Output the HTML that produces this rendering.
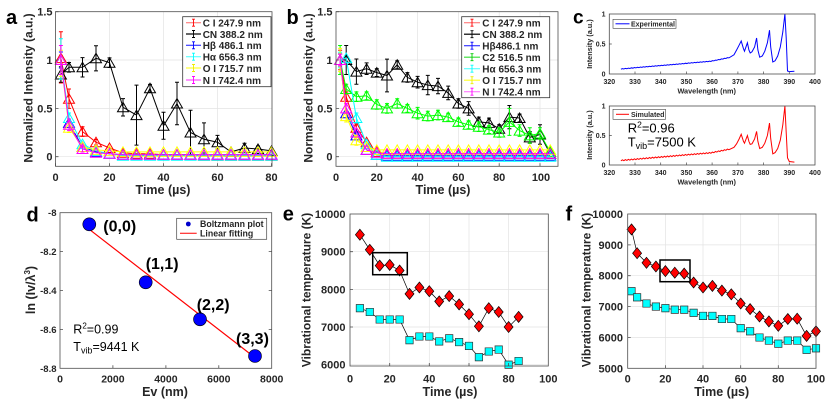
<!DOCTYPE html>
<html>
<head>
<meta charset="utf-8">
<style>
html,body{margin:0;padding:0;background:#fff;}
svg{display:block;}
.tk{font-family:"Liberation Sans",Arial,sans-serif;font-weight:bold;fill:#262626;}
.ti{font-family:"Liberation Sans",Arial,sans-serif;font-weight:bold;fill:#262626;}
.pl{font-family:"Liberation Sans",Arial,sans-serif;font-weight:bold;fill:#000;}
.ax{fill:none;stroke:#4d4d4d;stroke-width:0.8;}
.gr{stroke:#e3e3e3;stroke-width:0.7;fill:none;}
</style>
</head>
<body>
<svg width="831" height="404" viewBox="0 0 831 404" xmlns="http://www.w3.org/2000/svg">
<defs>
<marker id="mr" markerUnits="userSpaceOnUse" markerWidth="12" markerHeight="12" refX="0" refY="0" overflow="visible"><path d="M0,-5 L5.5,4.5 L-5.5,4.5Z" fill="none" stroke="#f00" stroke-width="1"/></marker>
<marker id="mk" markerUnits="userSpaceOnUse" markerWidth="12" markerHeight="12" refX="0" refY="0" overflow="visible"><path d="M0,-5 L5.5,4.5 L-5.5,4.5Z" fill="none" stroke="#000" stroke-width="1"/></marker>
<marker id="mb" markerUnits="userSpaceOnUse" markerWidth="12" markerHeight="12" refX="0" refY="0" overflow="visible"><path d="M0,-5 L5.5,4.5 L-5.5,4.5Z" fill="none" stroke="#00f" stroke-width="1"/></marker>
<marker id="mc" markerUnits="userSpaceOnUse" markerWidth="12" markerHeight="12" refX="0" refY="0" overflow="visible"><path d="M0,-5 L5.5,4.5 L-5.5,4.5Z" fill="none" stroke="#0ff" stroke-width="1"/></marker>
<marker id="my" markerUnits="userSpaceOnUse" markerWidth="12" markerHeight="12" refX="0" refY="0" overflow="visible"><path d="M0,-5 L5.5,4.5 L-5.5,4.5Z" fill="none" stroke="#ff0" stroke-width="1"/></marker>
<marker id="mm" markerUnits="userSpaceOnUse" markerWidth="12" markerHeight="12" refX="0" refY="0" overflow="visible"><path d="M0,-5 L5.5,4.5 L-5.5,4.5Z" fill="none" stroke="#f0f" stroke-width="1"/></marker>
<marker id="mg" markerUnits="userSpaceOnUse" markerWidth="12" markerHeight="12" refX="0" refY="0" overflow="visible"><path d="M0,-5 L5.5,4.5 L-5.5,4.5Z" fill="none" stroke="#0f0" stroke-width="1"/></marker>
<marker id="md" markerUnits="userSpaceOnUse" markerWidth="12" markerHeight="12" refX="0" refY="0" overflow="visible"><path d="M0,-5.5 L4.5,0 L0,5.5 L-4.5,0Z" fill="#f00" stroke="#000" stroke-width="0.7"/></marker>
<marker id="ms" markerUnits="userSpaceOnUse" markerWidth="12" markerHeight="12" refX="0" refY="0" overflow="visible"><path d="M-3.7,-3.7h7.4v7.4h-7.4Z" fill="#0ff" stroke="#333" stroke-width="0.7"/></marker>
</defs>

<!-- ============ PANEL A ============ -->
<text class="pl" x="6" y="24" font-size="20">a</text>
<g class="gr">
<path d="M109.5,11.7V166.3M163.5,11.7V166.3M217.5,11.7V166.3M55.5,156.7H272M55.5,108.4H272M55.5,60H272"/>
</g>
<g fill="none" stroke-width="1">
<!-- red -->
<path stroke="#f00" d="M60.9,31.7V83M58.9,31.7h4M58.9,83h4M69,89V108.4M67,89h4M67,108.4h4M82.5,126.8V136.4M80.5,126.8h4M80.5,136.4h4M96,139.5V145M94,139.5h4M94,145h4"/>
<polyline stroke="#f00" marker-start="url(#mr)" marker-mid="url(#mr)" marker-end="url(#mr)" points="60.9,58.1 69,98.7 82.5,131.6 96,142.2 109.5,148 123,152.8 136.5,153.8 150,153.8 163.5,154.8 177,154.8 190.5,154.8 204,155.7 217.5,155.7 231,155.7 244.5,155.7 258,155.7 271.5,155.7"/>
<!-- black -->
<path stroke="#000" d="M60.9,66.8V82.2M58.9,66.8h4M58.9,82.2h4M69,62.5V72.1M67,62.5h4M67,72.1h4M82.5,57.6V77M80.5,57.6h4M80.5,77h4M96,45.7V70.9M94,45.7h4M94,70.9h4M109.5,57.9V67.5M107.5,57.9h4M107.5,67.5h4M123,98.6V116M121,98.6h4M121,116h4M136.5,85.1V145.1M134.5,85.1h4M134.5,145.1h4M150,84.4V92.2M148,84.4h4M148,92.2h4M163.5,112.3V139.3M161.5,112.3h4M161.5,139.3h4M177,82.2V124.8M175,82.2h4M175,124.8h4M190.5,110.3V154.7M188.5,110.3h4M188.5,154.7h4M204,122.9V155.7M202,122.9h4M202,155.7h4M217.5,135.4V149M215.5,135.4h4M215.5,149h4M244.5,143.2V152.8M242.5,143.2h4M242.5,152.8h4M258,146V152M256,146h4M256,152h4"/>
<polyline stroke="#000" marker-start="url(#mk)" marker-mid="url(#mk)" marker-end="url(#mk)" points="60.9,74.5 69,67.3 82.5,67.3 96,58.3 109.5,62.7 123,107.3 136.5,115.1 150,88.3 163.5,125.8 177,103.5 190.5,132.5 204,139.3 217.5,142.2 231,151.9 244.5,148 258,149 271.5,150.9"/>
<!-- blue -->
<path stroke="#00f" d="M60.9,52V68M58.9,52h4M58.9,68h4"/>
<polyline stroke="#00f" marker-start="url(#mb)" marker-mid="url(#mb)" marker-end="url(#mb)" points="60.9,60 69,122.9 82.5,147 96,151.9 109.5,153.8 123,154.8 136.5,154.8 150,154.8 163.5,154.8 177,154.8 190.5,154.8 204,154.8 217.5,154.8 231,154.8 244.5,154.8 258,154.8 271.5,154.8"/>
<!-- cyan -->
<path stroke="#0ff" d="M60.9,38.7V79.3M58.9,38.7h4M58.9,79.3h4M69,113V123M67,113h4M67,123h4"/>
<polyline stroke="#0ff" marker-start="url(#mc)" marker-mid="url(#mc)" marker-end="url(#mc)" points="60.9,60 69,118 82.5,144.1 96,150.9 109.5,153.8 123,155.7 136.5,155.7 150,155.7 163.5,155.7 177,155.7 190.5,155.7 204,155.7 217.5,155.7 231,155.7 244.5,155.7 258,155.7 271.5,155.7"/>
<!-- yellow -->
<path stroke="#ff0" d="M60.9,50.3V76.4M58.9,50.3h4M58.9,76.4h4M69,122.9V132.5M67,122.9h4M67,132.5h4"/>
<polyline stroke="#ff0" marker-start="url(#my)" marker-mid="url(#my)" marker-end="url(#my)" points="60.9,60 69,127.7 82.5,147 96,149.9 109.5,150.9 123,151.9 136.5,151.9 150,151.9 163.5,151.9 177,151.9 190.5,151.9 204,151.9 217.5,151.9 231,151.9 244.5,151.9 258,151.9 271.5,151.9"/>
<!-- magenta -->
<path stroke="#f0f" d="M60.9,45.5V74.5M58.9,45.5h4M58.9,74.5h4M69,119V130.6M67,119h4M67,130.6h4M82.5,146V152M80.5,146h4M80.5,152h4"/>
<polyline stroke="#f0f" marker-start="url(#mm)" marker-mid="url(#mm)" marker-end="url(#mm)" points="60.9,60 69,124.8 82.5,149 96,152.8 109.5,153.8 123,154.8 136.5,154.8 150,154.8 163.5,154.8 177,154.8 190.5,154.8 204,154.8 217.5,154.8 231,154.8 244.5,154.8 258,154.8 271.5,154.8"/>
</g>
<rect class="ax" x="55.5" y="11.7" width="216.5" height="154.6"/>
<path stroke="#4d4d4d" stroke-width="0.8" d="M55.5,156.7h3M55.5,108.4h3M55.5,60h3M55.5,11.7h3M55.5,166.3v-3M109.5,166.3v-3M163.5,166.3v-3M217.5,166.3v-3M271.5,166.3v-3"/>
<g class="tk" font-size="11" text-anchor="end">
<text x="52.5" y="15.7">1.5</text><text x="52.5" y="64">1</text><text x="52.5" y="112.4">0.5</text><text x="52.5" y="160.7">0</text>
</g>
<g class="tk" font-size="11" text-anchor="middle">
<text x="55.5" y="181">0</text><text x="109.5" y="181">20</text><text x="163.5" y="181">40</text><text x="217.5" y="181">60</text><text x="271.5" y="181">80</text>
</g>
<text class="ti" x="163" y="194" font-size="12.5" text-anchor="middle">Time (µs)</text>
<text class="ti" font-size="12" text-anchor="middle" transform="translate(32.3,88) rotate(-90)">Normalized Intensity (a.u.)</text>
<!-- legend a -->
<rect x="182.7" y="16.7" width="88.3" height="70" fill="#fff" stroke="#333" stroke-width="0.8"/>
<g stroke-width="1.2">
<path stroke="#ff8080" d="M186,22.7h15"/><path stroke="#f00" stroke-width="0.9" d="M193.5,19.2v7M192,19.2h3M192,26.2h3"/>
<path stroke="#000" d="M186,34h15"/><path stroke="#000" stroke-width="0.9" d="M193.5,30.5v7M192,30.5h3M192,37.5h3"/>
<path stroke="#3a3aff" d="M186,45.3h15"/><path stroke="#00f" stroke-width="0.9" d="M193.5,41.8v7M192,41.8h3M192,48.8h3"/>
<path stroke="#60ffff" d="M186,56.7h15"/><path stroke="#0ff" stroke-width="0.9" d="M193.5,53.2v7M192,53.2h3M192,60.2h3"/>
<path stroke="#ffff30" d="M186,68h15"/><path stroke="#ee0" stroke-width="0.9" d="M193.5,64.5v7M192,64.5h3M192,71.5h3"/>
<path stroke="#ff50ff" d="M186,80h15"/><path stroke="#f0f" stroke-width="0.9" d="M193.5,76.5v7M192,76.5h3M192,83.5h3"/>
</g>
<g class="tk" font-size="10" fill="#000">
<text x="202.7" y="26.5">C I 247.9 nm</text>
<text x="202.7" y="37.8">CN 388.2 nm</text>
<text x="202.7" y="49.1">Hβ 486.1 nm</text>
<text x="202.7" y="60.5">Hα 656.3 nm</text>
<text x="202.7" y="71.8">O I 715.7 nm</text>
<text x="202.7" y="83.8">N I 742.4 nm</text>
</g>

<!-- ============ PANEL B ============ -->
<text class="pl" x="286.5" y="24" font-size="20">b</text>
<g class="gr">
<path d="M376.8,11.7V166.3M417.6,11.7V166.3M458.4,11.7V166.3M499.2,11.7V166.3M540,11.7V166.3M336,156.7H558M336,108.4H558M336,60H558"/>
</g>
<g fill="none" stroke-width="1">
<!-- red -->
<path stroke="#f00" d="M340.1,50.3V69.7M338.1,50.3h4M338.1,69.7h4M346.2,91.9V101.5M344.2,91.9h4M344.2,101.5h4M356.4,123.8V131.6M354.4,123.8h4M354.4,131.6h4"/>
<polyline stroke="#f00" marker-start="url(#mr)" marker-mid="url(#mr)" marker-end="url(#mr)" points="340.1,60 346.2,96.7 356.4,127.7 366.6,142.2 376.8,151.9 387,153.8 397.2,153.8 407.4,153.8 417.6,153.8 427.8,153.8 438,153.8 448.2,153.8 458.4,153.8 468.6,153.8 478.8,153.8 489,153.8 499.2,153.8 509.4,153.8 519.6,153.8 529.8,153.8 540,153.8 550.2,153.8"/>
<!-- black -->
<path stroke="#000" d="M340.1,54V66M338.1,54h4M338.1,66h4M346.2,45.5V74.5M344.2,45.5h4M344.2,74.5h4M356.4,59V84.2M354.4,59h4M354.4,84.2h4M366.6,62.9V74.5M364.6,62.9h4M364.6,74.5h4M376.8,68.7V76.5M374.8,68.7h4M374.8,76.5h4M387,59.1V91.9M385,59.1h4M385,91.9h4M397.2,60.9V68.7M395.2,60.9h4M395.2,68.7h4M407.4,72.6V82.2M405.4,72.6h4M405.4,82.2h4M417.6,76.4V88M415.6,76.4h4M415.6,88h4M427.8,75.4V94.8M425.8,75.4h4M425.8,94.8h4M438,78.4V93.8M436,78.4h4M436,93.8h4M448.2,86.1V99.7M446.2,86.1h4M446.2,99.7h4M458.4,98.7V108.3M456.4,98.7h4M456.4,108.3h4M468.6,101.6V115.2M466.6,101.6h4M466.6,115.2h4M478.8,117.1V126.7M476.8,117.1h4M476.8,126.7h4M489,118.1V127.7M487,118.1h4M487,127.7h4M499.2,124.8V132.6M497.2,124.8h4M497.2,132.6h4M509.4,105.5V128.7M507.4,105.5h4M507.4,128.7h4M519.6,114.1V121.9M517.6,114.1h4M517.6,121.9h4M529.8,131.6V143.2M527.8,131.6h4M527.8,143.2h4M540,124.8V144.2M538,124.8h4M538,144.2h4"/>
<polyline stroke="#000" marker-start="url(#mk)" marker-mid="url(#mk)" marker-end="url(#mk)" points="340.1,60 346.2,60 356.4,71.6 366.6,68.7 376.8,72.6 387,75.5 397.2,64.8 407.4,77.4 417.6,82.2 427.8,85.1 438,86.1 448.2,92.9 458.4,103.5 468.6,108.4 478.8,121.9 489,122.9 499.2,128.7 509.4,117.1 519.6,118 529.8,137.4 540,134.5 550.2,153.8"/>
<!-- blue -->
<polyline stroke="#00f" marker-start="url(#mb)" marker-mid="url(#mb)" marker-end="url(#mb)" points="340.1,60 346.2,113.2 356.4,135.4 366.6,149.9 376.8,154.8 387,155.7 397.2,155.7 407.4,155.7 417.6,155.7 427.8,155.7 438,155.7 448.2,155.7 458.4,155.7 468.6,155.7 478.8,155.7 489,155.7 499.2,155.7 509.4,155.7 519.6,155.7 529.8,155.7 540,155.7 550.2,155.7"/>
<!-- green -->
<path stroke="#0f0" d="M340.1,45.5V74.5M338.1,45.5h4M338.1,74.5h4M346.2,84.2V93.8M344.2,84.2h4M344.2,93.8h4M356.4,91.9V101.5M354.4,91.9h4M354.4,101.5h4M366.6,91.9V99.7M364.6,91.9h4M364.6,99.7h4M376.8,99.7V109.3M374.8,99.7h4M374.8,109.3h4M387,103.6V113.2M385,103.6h4M385,113.2h4M397.2,98.7V108.3M395.2,98.7h4M395.2,108.3h4M407.4,104.5V112.3M405.4,104.5h4M405.4,112.3h4M417.6,107.4V119M415.6,107.4h4M415.6,119h4M427.8,111.3V120.9M425.8,111.3h4M425.8,120.9h4M438,110.3V119.9M436,110.3h4M436,119.9h4M448.2,113.2V121M446.2,113.2h4M446.2,121h4M458.4,118V125.8M456.4,118h4M456.4,125.8h4M468.6,120.9V128.7M466.6,120.9h4M466.6,128.7h4M478.8,121.9V131.5M476.8,121.9h4M476.8,131.5h4M489,125.7V133.5M487,125.7h4M487,133.5h4M499.2,127.7V137.3M497.2,127.7h4M497.2,137.3h4M509.4,108.4V135.4M507.4,108.4h4M507.4,135.4h4M519.6,124.8V136.4M517.6,124.8h4M517.6,136.4h4M529.8,127.7V143.1M527.8,127.7h4M527.8,143.1h4M540,127.7V139.3M538,127.7h4M538,139.3h4"/>
<polyline stroke="#0f0" marker-start="url(#mg)" marker-mid="url(#mg)" marker-end="url(#mg)" points="340.1,60 346.2,89 356.4,96.7 366.6,95.8 376.8,104.5 387,108.4 397.2,103.5 407.4,108.4 417.6,113.2 427.8,116.1 438,115.1 448.2,117.1 458.4,121.9 468.6,124.8 478.8,126.7 489,129.6 499.2,132.5 509.4,121.9 519.6,130.6 529.8,135.4 540,133.5 550.2,151.9"/>
<!-- cyan -->
<path stroke="#0ff" d="M340.1,52.3V67.7M338.1,52.3h4M338.1,67.7h4M356.4,113V123M354.4,113h4M354.4,123h4"/>
<polyline stroke="#0ff" marker-start="url(#mc)" marker-mid="url(#mc)" marker-end="url(#mc)" points="340.1,60 346.2,58.1 356.4,118 366.6,144.1 376.8,154.8 387,156.7 397.2,156.7 407.4,156.7 417.6,156.7 427.8,156.7 438,156.7 448.2,156.7 458.4,156.7 468.6,156.7 478.8,156.7 489,156.7 499.2,156.7 509.4,156.7 519.6,156.7 529.8,156.7 540,156.7 550.2,156.7"/>
<!-- yellow -->
<path stroke="#ff0" d="M340.1,48.4V71.6M338.1,48.4h4M338.1,71.6h4M346.2,110.3V122M344.2,110.3h4M344.2,122h4M356.4,135.4V145.2M354.4,135.4h4M354.4,145.2h4"/>
<polyline stroke="#ff0" marker-start="url(#my)" marker-mid="url(#my)" marker-end="url(#my)" points="340.1,60 346.2,116.1 356.4,140.3 366.6,147 376.8,149.9 387,149.9 397.2,149.9 407.4,149.9 417.6,149.9 427.8,149.9 438,149.9 448.2,149.9 458.4,149.9 468.6,149.9 478.8,149.9 489,149.9 499.2,149.9 509.4,149.9 519.6,149.9 529.8,149.9 540,149.9 550.2,149.9"/>
<!-- magenta -->
<path stroke="#f0f" d="M340.1,54.2V65.8M338.1,54.2h4M338.1,65.8h4M346.2,103.6V113.2M344.2,103.6h4M344.2,113.2h4"/>
<polyline stroke="#f0f" marker-start="url(#mm)" marker-mid="url(#mm)" marker-end="url(#mm)" points="340.1,60 346.2,108.4 356.4,132.5 366.6,149.9 376.8,152.8 387,153.8 397.2,153.8 407.4,153.8 417.6,153.8 427.8,153.8 438,153.8 448.2,153.8 458.4,153.8 468.6,153.8 478.8,153.8 489,153.8 499.2,153.8 509.4,153.8 519.6,153.8 529.8,153.8 540,153.8 550.2,153.8"/>
</g>
<rect class="ax" x="336" y="11.7" width="222" height="154.6"/>
<path stroke="#4d4d4d" stroke-width="0.8" d="M336,156.7h3M336,108.4h3M336,60h3M336,11.7h3M376.8,166.3v-3M417.6,166.3v-3M458.4,166.3v-3M499.2,166.3v-3M540,166.3v-3"/>
<g class="tk" font-size="11" text-anchor="end">
<text x="332.5" y="15.7">1.5</text><text x="332.5" y="64">1</text><text x="332.5" y="112.4">0.5</text><text x="332.5" y="160.7">0</text>
</g>
<g class="tk" font-size="11" text-anchor="middle">
<text x="336" y="181">0</text><text x="376.8" y="181">20</text><text x="417.6" y="181">40</text><text x="458.4" y="181">60</text><text x="499.2" y="181">80</text><text x="541" y="181">100</text>
</g>
<text class="ti" x="443" y="194" font-size="12.5" text-anchor="middle">Time (µs)</text>
<text class="ti" font-size="12" text-anchor="middle" transform="translate(312.3,88) rotate(-90)">Normalized Intensity (a.u.)</text>
<!-- legend b -->
<rect x="461.7" y="16.7" width="88" height="81" fill="#fff" stroke="#333" stroke-width="0.8"/>
<g stroke-width="1.2">
<path stroke="#ff8080" d="M464,22.7h16"/><path stroke="#f00" stroke-width="0.9" d="M472,19.2v7M470.5,19.2h3M470.5,26.2h3"/>
<path stroke="#000" d="M464,34.2h16"/><path stroke="#000" stroke-width="0.9" d="M472,30.7v7M470.5,30.7h3M470.5,37.7h3"/>
<path stroke="#3a3aff" d="M464,45.7h16"/><path stroke="#00f" stroke-width="0.9" d="M472,42.2v7M470.5,42.2h3M470.5,49.2h3"/>
<path stroke="#40e040" d="M464,57.2h16"/><path stroke="#0c0" stroke-width="0.9" d="M472,53.7v7M470.5,53.7h3M470.5,60.7h3"/>
<path stroke="#60ffff" d="M464,68.7h16"/><path stroke="#0ff" stroke-width="0.9" d="M472,65.2v7M470.5,65.2h3M470.5,72.2h3"/>
<path stroke="#ffff30" d="M464,80.2h16"/><path stroke="#ee0" stroke-width="0.9" d="M472,76.7v7M470.5,76.7h3M470.5,83.7h3"/>
<path stroke="#ff80ff" d="M464,91.7h16"/><path stroke="#f0f" stroke-width="0.9" d="M472,88.2v7M470.5,88.2h3M470.5,95.2h3"/>
</g>
<g class="tk" font-size="10" fill="#000">
<text x="482.3" y="26.5">C I 247.9 nm</text>
<text x="482.3" y="38">CN 388.2 nm</text>
<text x="482.3" y="49.5">Hβ486.1 nm</text>
<text x="482.3" y="61">C2 516.5 nm</text>
<text x="482.3" y="72.5">Hα 656.3 nm</text>
<text x="482.3" y="84">O I 715.7 nm</text>
<text x="482.3" y="95.5">N I 742.4 nm</text>
</g>

<!-- ============ PANEL C ============ -->
<text class="pl" x="573" y="23.3" font-size="19">c</text>
<!-- top -->
<path fill="none" stroke="#0000ff" stroke-width="1" d="M620.9,69.2 l1.5,-.6 1.5,.343 l1.5,-.6 1.5,.343 l1.5,-.6 1.5,.343 l1.5,-.6 1.5,.343 l1.5,-.6 1.5,.343 l1.5,-.6 1.5,.343 l1.5,-.6 1.5,.343 l1.5,-.6 1.5,.343 l1.5,-.6 1.5,.343 l1.5,-.6 1.5,.343 l1.5,-.6 1.5,.343 l1.5,-.6 1.5,.343 l1.5,-.6 1.5,.343 l1.5,-.6 1.5,.343 l1.5,-.6 1.5,.343 l1.5,-.6 1.5,.343 l1.5,-.6 1.5,.343 l1.5,-.6 1.5,.343 l1.5,-.6 1.5,.343 l1.5,-.6 1.5,.343 l1.5,-.6 1.5,.343 l1.5,-.6 1.5,.343 l1.5,-.6 1.5,.343 l1.5,-.6 1.5,.343 l1.5,-.6 1.5,.343 l1.5,-.6 1.5,.343 l1.5,-.6 1.5,.343 l1.5,-.6 1.5,.343 l1.5,-.6 1.5,.343 l1.5,-.6 1.5,.343 l1.5,-.8 1.5,.2 l1.5,-.8 1.5,.2 l1.5,-.8 1.5,.2 l1.5,-.8 1.5,.2 l1.5,-.8 1.5,.2 l1.5,-.8 1.5,.2 L734,54.8 736.6,50 739.1,45.2 741.2,41 743.5,48.8 744.5,51.2 747.4,42.8 748.9,50 750.2,53 752,51.8 754.6,47 756.6,38 757.9,50 759.7,57.2 762.3,56 764.8,51.2 767.4,42.8 769.5,30.2 770.7,47 772.8,62 775.1,60.8 777.7,56 780.3,47 782.8,32 784.9,14 786.2,38 787.5,71 789.3,71.6 794.4,71.3"/>
<rect class="ax" x="609.3" y="14" width="205.7" height="60"/>
<path stroke="#4d4d4d" stroke-width="0.7" d="M609.3,44h2.5M635,74v-2.5M660.7,74v-2.5M686.4,74v-2.5M712.1,74v-2.5M737.9,74v-2.5M763.6,74v-2.5M789.3,74v-2.5"/>
<rect x="613" y="19.3" width="63" height="9" fill="#fff" stroke="#444" stroke-width="0.6"/>
<path stroke="#00f" stroke-width="1" d="M615.5,23.8h14"/>
<text class="tk" x="631" y="26.4" font-size="7" fill="#000">Experimental</text>
<g class="tk" font-size="7" text-anchor="end">
<text x="605.5" y="16.5">1</text><text x="605.5" y="46.5">0.5</text><text x="605.5" y="76.5">0</text>
</g>
<g class="tk" font-size="7" text-anchor="middle">
<text x="609.3" y="84">320</text><text x="635" y="84">330</text><text x="660.7" y="84">340</text><text x="686.4" y="84">350</text><text x="712.1" y="84">360</text><text x="737.9" y="84">370</text><text x="763.6" y="84">380</text><text x="789.3" y="84">390</text><text x="815" y="84">400</text>
</g>
<text class="ti" x="706.7" y="93.5" font-size="7.3" text-anchor="middle">Wavelength (nm)</text>
<text class="ti" font-size="7.3" text-anchor="middle" transform="translate(592,44) rotate(-90)">Intensity (a.u.)</text>
<!-- bottom -->
<path fill="none" stroke="#ff0000" stroke-width="1" d="M620.9,160.9 l1.5,-1.1 1.5,.847 l1.5,-1.1 1.5,.847 l1.5,-1.1 1.5,.847 l1.5,-1.1 1.5,.847 l1.5,-1.1 1.5,.847 l1.5,-1.1 1.5,.847 l1.5,-1.1 1.5,.847 l1.5,-1.1 1.5,.847 l1.5,-1.1 1.5,.847 l1.5,-1.1 1.5,.847 l1.5,-1.1 1.5,.847 l1.5,-1.1 1.5,.847 l1.5,-1.1 1.5,.847 l1.5,-1.1 1.5,.847 l1.5,-1.1 1.5,.847 l1.5,-1.1 1.5,.847 l1.5,-1.1 1.5,.847 l1.5,-1.1 1.5,.847 l1.5,-1.1 1.5,.847 l1.5,-1.1 1.5,.847 l1.5,-1.1 1.5,.847 l1.5,-1.1 1.5,.847 l1.5,-1.1 1.5,.847 l1.5,-1.1 1.5,.847 l1.5,-1.1 1.5,.847 l1.5,-1.1 1.5,.847 l1.5,-1.1 1.5,.847 l1.5,-1.1 1.5,.847 l1.5,-1.1 1.5,.847 l1.5,-1.1 1.5,.847 l1.5,-1.2 1.5,.6 l1.5,-1.2 1.5,.6 l1.5,-1.2 1.5,.6 l1.5,-1.2 1.5,.6 l1.5,-1.2 1.5,.6 l1.5,-1.2 1.5,.6 L734,147.3 736.6,143.8 739.1,139 741.2,134.3 743.5,141.4 744.5,143.2 747.4,135.5 748.9,141.4 750.2,144.4 752,143.8 754.6,139 756.6,131.4 757.9,141.4 759.7,148.5 762.3,147.3 764.8,143.2 767.4,135.5 769.5,123.1 770.7,138.5 772.8,153.8 775.1,152.6 777.7,148.5 780.3,140.2 782.8,124.9 784.9,106 786.2,132.5 787.5,157.9 789.3,161.5 794.4,162.1"/>
<rect class="ax" x="609.3" y="106" width="205.7" height="59"/>
<path stroke="#4d4d4d" stroke-width="0.7" d="M609.3,135.5h2.5M635,165v-2.5M660.7,165v-2.5M686.4,165v-2.5M712.1,165v-2.5M737.9,165v-2.5M763.6,165v-2.5M789.3,165v-2.5"/>
<rect x="613" y="109.3" width="52.5" height="10" fill="#fff" stroke="#444" stroke-width="0.6"/>
<path stroke="#f00" stroke-width="1" d="M616,114.3h13"/>
<text class="tk" x="631" y="116.9" font-size="7" fill="#000">Simulated</text>
<text x="627.7" y="132.3" font-family="Liberation Sans, Arial, sans-serif" font-size="13" fill="#000">R<tspan font-size="8.5" dy="-5">2</tspan><tspan dy="5">=0.96</tspan></text>
<text x="627.7" y="146.5" font-family="Liberation Sans, Arial, sans-serif" font-size="13" fill="#000">T<tspan font-size="9" dy="2.5">vib</tspan><tspan dy="-2.5">=7500 K</tspan></text>
<g class="tk" font-size="7" text-anchor="end">
<text x="605.5" y="108.5">1</text><text x="605.5" y="138">0.5</text><text x="605.5" y="167.5">0</text>
</g>
<g class="tk" font-size="7" text-anchor="middle">
<text x="609.3" y="175">320</text><text x="635" y="175">330</text><text x="660.7" y="175">340</text><text x="686.4" y="175">350</text><text x="712.1" y="175">360</text><text x="737.9" y="175">370</text><text x="763.6" y="175">380</text><text x="789.3" y="175">390</text><text x="815" y="175">400</text>
</g>
<text class="ti" x="706.7" y="184.5" font-size="7.3" text-anchor="middle">Wavelength (nm)</text>
<text class="ti" font-size="7.3" text-anchor="middle" transform="translate(592,135) rotate(-90)">Intensity (a.u.)</text>

<!-- ============ PANEL D ============ -->
<text class="pl" x="26.5" y="221.7" font-size="20">d</text>
<path stroke="#ff0000" stroke-width="1.2" d="M89.1,229.2L255,357.6"/>
<g fill="#0000ff" stroke="#000" stroke-width="0.6">
<circle cx="89.3" cy="224.3" r="6.5"/><circle cx="145.7" cy="282.3" r="6.5"/><circle cx="200" cy="319.3" r="6.5"/><circle cx="255" cy="356" r="6.5"/>
</g>
<rect class="ax" x="60" y="212.7" width="211.7" height="155.6"/>
<path stroke="#4d4d4d" stroke-width="0.8" d="M60,251.6h3M60,290.5h3M60,329.4h3M112.9,368.3v-3M165.9,368.3v-3M218.8,368.3v-3M271.7,251.6h-3M271.7,290.5h-3M271.7,329.4h-3"/>
<g class="pl" font-size="16">
<text x="103.3" y="231.5">(0,0)</text>
<text x="145.7" y="269">(1,1)</text>
<text x="196.7" y="310">(2,2)</text>
<text x="236" y="344">(3,3)</text>
</g>
<text x="73.3" y="333.3" font-family="Liberation Sans, Arial, sans-serif" font-size="12.5" fill="#000">R<tspan font-size="8" dy="-5">2</tspan><tspan dy="5">=0.99</tspan></text>
<text x="73.3" y="351.2" font-family="Liberation Sans, Arial, sans-serif" font-size="12.5" fill="#000">T<tspan font-size="9" dy="2.5">vib</tspan><tspan dy="-2.5">=9441 K</tspan></text>
<rect x="176.7" y="218.3" width="90" height="21" fill="#fff" stroke="#444" stroke-width="0.7"/>
<circle cx="188.3" cy="224" r="2.4" fill="#0000cc"/>
<path stroke="#f00" stroke-width="1" d="M180,233.3h16.7"/>
<g class="tk" font-size="8.8" fill="#000">
<text x="200" y="227.2">Boltzmann plot</text>
<text x="200" y="236.5">Linear fitting</text>
</g>
<g class="tk" font-size="9.5" text-anchor="end">
<text x="56.5" y="216.2">-8</text><text x="56.5" y="255.1">-8.2</text><text x="56.5" y="294">-8.4</text><text x="56.5" y="332.9">-8.6</text><text x="56.5" y="371.8">-8.8</text>
</g>
<g class="tk" font-size="10.5" text-anchor="middle">
<text x="60" y="382.5">0</text><text x="112.9" y="382.5">2000</text><text x="165.9" y="382.5">4000</text><text x="218.8" y="382.5">6000</text><text x="271.7" y="382.5">8000</text>
</g>
<text class="ti" x="165" y="396" font-size="12.5" text-anchor="middle">Ev (nm)</text>
<text class="ti" font-size="12.5" text-anchor="middle" transform="translate(35,290) rotate(-90)">ln (Iv/λ<tspan font-size="8" dy="-5">3</tspan><tspan dy="5">)</tspan></text>

<!-- ============ PANEL E ============ -->
<text class="pl" x="282.7" y="220.7" font-size="20">e</text>
<g class="gr">
<path d="M389.7,214V366M429.3,214V366M469,214V366M508.6,214V366M350,251.7H548.3M350,289.4H548.3M350,327H548.3M350,364.7H548.3"/>
</g>
<polyline fill="none" stroke="#000" stroke-width="0.7" marker-start="url(#md)" marker-mid="url(#md)" marker-end="url(#md)" points="359.9,234.7 369.8,249.8 379.7,265.6 389.7,264.9 399.6,270.5 409.5,293.9 419.4,287.5 429.3,291.2 439.2,301.4 449.2,296.1 459.1,304.4 469,314.2 478.9,326.3 488.8,308.2 498.7,312 508.6,327 518.6,316.9"/>
<polyline fill="none" stroke="#000" stroke-width="0.7" marker-start="url(#ms)" marker-mid="url(#ms)" marker-end="url(#ms)" points="359.9,308.2 369.8,312 379.7,319.5 389.7,319.5 399.6,319.5 409.5,340.2 419.4,336.5 429.3,336.5 439.2,341.4 449.2,338.3 459.1,342.1 469,345.9 478.9,357.2 488.8,351.5 498.7,349.6 508.6,364.7 518.6,361"/>
<rect x="372.7" y="252.7" width="34.6" height="22" fill="none" stroke="#000" stroke-width="1.5"/>
<rect class="ax" x="350" y="214" width="198.3" height="152"/>
<path stroke="#4d4d4d" stroke-width="0.8" d="M350,251.7h3M350,289.4h3M350,327h3M389.7,366v-3M429.3,366v-3M469,366v-3M508.6,366v-3"/>
<g class="tk" font-size="11" text-anchor="end">
<text x="345.5" y="218">10000</text><text x="345.5" y="255.7">9000</text><text x="345.5" y="293.4">8000</text><text x="345.5" y="331">7000</text><text x="345.5" y="368.7">6000</text>
</g>
<g class="tk" font-size="11" text-anchor="middle">
<text x="350" y="382.5">0</text><text x="389.7" y="382.5">20</text><text x="429.3" y="382.5">40</text><text x="469" y="382.5">60</text><text x="508.6" y="382.5">80</text><text x="548.3" y="382.5">100</text>
</g>
<text class="ti" x="450" y="396" font-size="12.5" text-anchor="middle">Time (µs)</text>
<text class="ti" font-size="12" text-anchor="middle" transform="translate(310.5,290) rotate(-90)">Vibrational temperature (K)</text>

<!-- ============ PANEL F ============ -->
<text class="pl" x="565.5" y="220.7" font-size="20">f</text>
<g class="gr">
<path d="M665.4,214V368.3M703,214V368.3M740.7,214V368.3M778.3,214V368.3M627.7,244.9H816M627.7,275.7H816M627.7,306.6H816M627.7,337.5H816"/>
</g>
<polyline fill="none" stroke="#000" stroke-width="0.7" marker-start="url(#md)" marker-mid="url(#md)" marker-end="url(#md)" points="631.5,229.4 637.1,253.2 646.5,262.8 655.9,266.5 665.4,271.1 674.8,272.7 684.2,273.6 693.6,282.5 703,287.5 712.4,285.9 721.9,290.6 731.3,294.3 740.7,303.5 750.1,309.1 759.5,316.5 768.9,321.4 778.3,325.8 787.8,319 797.2,318.7 806.6,335.9 816,331.3"/>
<polyline fill="none" stroke="#000" stroke-width="0.7" marker-start="url(#ms)" marker-mid="url(#ms)" marker-end="url(#ms)" points="631.5,291.2 637.1,297.3 646.5,303.5 655.9,306.6 665.4,308.2 674.8,309.7 684.2,309.7 693.6,312.8 703,315.9 712.4,315.9 721.9,319 731.3,319 740.7,328.2 750.1,331.3 759.5,337.5 768.9,340.6 778.3,343.7 787.8,340.6 797.2,340.6 806.6,349.8 816,348.3"/>
<rect x="660" y="260" width="30" height="21.7" fill="none" stroke="#000" stroke-width="1.5"/>
<rect class="ax" x="627.7" y="214" width="188.3" height="154.3"/>
<path stroke="#4d4d4d" stroke-width="0.8" d="M627.7,244.9h3M627.7,275.7h3M627.7,306.6h3M627.7,337.5h3M665.4,368.3v-3M703,368.3v-3M740.7,368.3v-3M778.3,368.3v-3"/>
<g class="tk" font-size="11" text-anchor="end">
<text x="623" y="218">10000</text><text x="623" y="248.9">9000</text><text x="623" y="279.7">8000</text><text x="623" y="310.6">7000</text><text x="623" y="341.5">6000</text><text x="623" y="372.3">5000</text>
</g>
<g class="tk" font-size="11" text-anchor="middle">
<text x="627.7" y="382.5">0</text><text x="665.4" y="382.5">20</text><text x="703" y="382.5">40</text><text x="740.7" y="382.5">60</text><text x="778.3" y="382.5">80</text><text x="816" y="382.5">100</text>
</g>
<text class="ti" x="721.7" y="396" font-size="12.5" text-anchor="middle">Time (µs)</text>
<text class="ti" font-size="12" text-anchor="middle" transform="translate(590.5,290) rotate(-90)">Vibrational temperature (K)</text>
</svg>
</body>
</html>
